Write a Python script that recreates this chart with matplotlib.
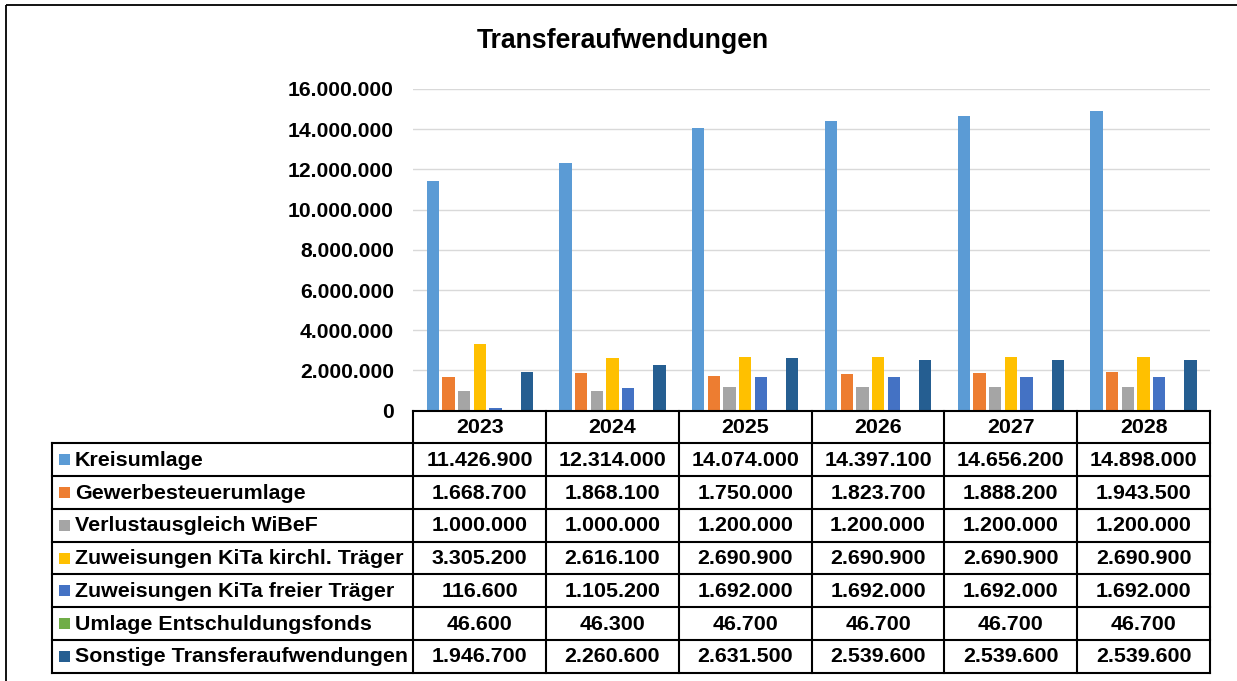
import matplotlib
matplotlib.use("Agg")
import matplotlib.pyplot as plt
from matplotlib.patches import Rectangle
import numpy as np

plt.rcParams['font.family'] = ['Liberation Sans', 'DejaVu Sans']
plt.rcParams['font.weight'] = 'bold'

title = "Transferaufwendungen"
years = ["2023", "2024", "2025", "2026", "2027", "2028"]
series_names = [
    "Kreisumlage",
    "Gewerbesteuerumlage",
    "Verlustausgleich WiBeF",
    "Zuweisungen KiTa kirchl. Träger",
    "Zuweisungen KiTa freier Träger",
    "Umlage Entschuldungsfonds",
    "Sonstige Transferaufwendungen",
]
kreisumlage = [11426900, 12314000, 14074000, 14397100, 14656200, 14898000]
gewerbesteuerumlage = [1668700, 1868100, 1750000, 1823700, 1888200, 1943500]
verlustausgleich = [1000000, 1000000, 1200000, 1200000, 1200000, 1200000]
kita_kirchl = [3305200, 2616100, 2690900, 2690900, 2690900, 2690900]
kita_frei = [116600, 1105200, 1692000, 1692000, 1692000, 1692000]
entschuldungsfonds = [46600, 46300, 46700, 46700, 46700, 46700]
sonstige = [1946700, 2260600, 2631500, 2539600, 2539600, 2539600]
yticks = [0, 2000000, 4000000, 6000000, 8000000, 10000000, 12000000, 14000000, 16000000]

series = [kreisumlage, gewerbesteuerumlage, verlustausgleich, kita_kirchl,
          kita_frei, entschuldungsfonds, sonstige]
colors = ["#5B9BD5", "#ED7D31", "#A5A5A5", "#FFC000", "#4472C4", "#70AD47", "#255E91"]


def de(v):
    return f"{v:,.0f}".replace(",", ".")


W, H = 1237, 681
fig = plt.figure(figsize=(W / 100, H / 100), dpi=100)

# layout in pixels
ax_left, ax_right = 413.3, 1210.0
ax_top, ax_bottom = 89.0, 410.7
ax = fig.add_axes([ax_left / W, (H - ax_bottom) / H,
                   (ax_right - ax_left) / W, (ax_bottom - ax_top) / H])

x = np.arange(len(years))
step = 0.118
bw = 0.0926
n = len(series)
for j, (vals, c) in enumerate(zip(series, colors)):
    ax.bar(x + (j - (n - 1) / 2) * step, vals, width=bw, color=c, zorder=3)

ax.set_xlim(-0.5, len(years) - 0.5)
ax.set_ylim(0, 16000000)
ax.set_yticks(yticks)
ax.set_yticklabels([de(v) for v in yticks], fontsize=15.2, fontweight='bold')
ax.tick_params(axis='y', length=0, pad=13.9)
ax.set_xticks([])
ax.grid(axis='y', color='#D9D9D9', linewidth=1.0, zorder=0)
for s in ax.spines.values():
    s.set_visible(False)

# overlay in pixel coordinates for table, title and border
tax = fig.add_axes([0, 0, 1, 1], zorder=5)
tax.set_xlim(0, W)
tax.set_ylim(H, 0)
tax.axis('off')
tax.patch.set_alpha(0)

# outer chart border (left and top visible)
tax.plot([6, 6], [5, H + 2], color='black', lw=1.3, solid_capstyle='butt')
tax.plot([6, W + 2], [5, 5], color='black', lw=1.3, solid_capstyle='butt')

tax.text(622.5, 41, title, ha='center', va='center', fontsize=19.2, fontweight='bold')

# table
colw = (ax_right - ax_left) / len(years)
head_top = ax_bottom
row_h = 32.75
head_bot = head_top + row_h
leg_left = 51.7
n_rows = len(series)
tab_bot = head_bot + n_rows * row_h
lw = 1.5
kw = dict(color='black', lw=lw, solid_capstyle='projecting')

# horizontal lines
tax.plot([ax_left, ax_right], [head_top, head_top], **kw)
for r in range(n_rows + 1):
    y = head_bot + r * row_h
    tax.plot([leg_left, ax_right], [y, y], **kw)
# vertical lines
tax.plot([leg_left, leg_left], [head_bot, tab_bot], **kw)
for c in range(len(years) + 1):
    xx = ax_left + c * colw
    tax.plot([xx, xx], [head_top, tab_bot], **kw)

fs = 15.4
for c, yr in enumerate(years):
    tax.text(ax_left + (c + 0.5) * colw, head_top + row_h / 2 + 0.5, yr,
             ha='center', va='center', fontsize=fs, fontweight='bold')

for r, (name, vals, col) in enumerate(zip(series_names, series, colors)):
    yc = head_bot + (r + 0.5) * row_h
    tax.add_patch(Rectangle((59, yc - 5.5), 11, 11, facecolor=col, edgecolor='none'))
    tax.text(75, yc + 0.5, name, ha='left', va='center', fontsize=fs, fontweight='bold')
    for c, v in enumerate(vals):
        tax.text(ax_left + (c + 0.5) * colw, yc + 0.5, de(v),
                 ha='center', va='center', fontsize=fs, fontweight='bold')

fig.savefig("out.png", dpi=100)
